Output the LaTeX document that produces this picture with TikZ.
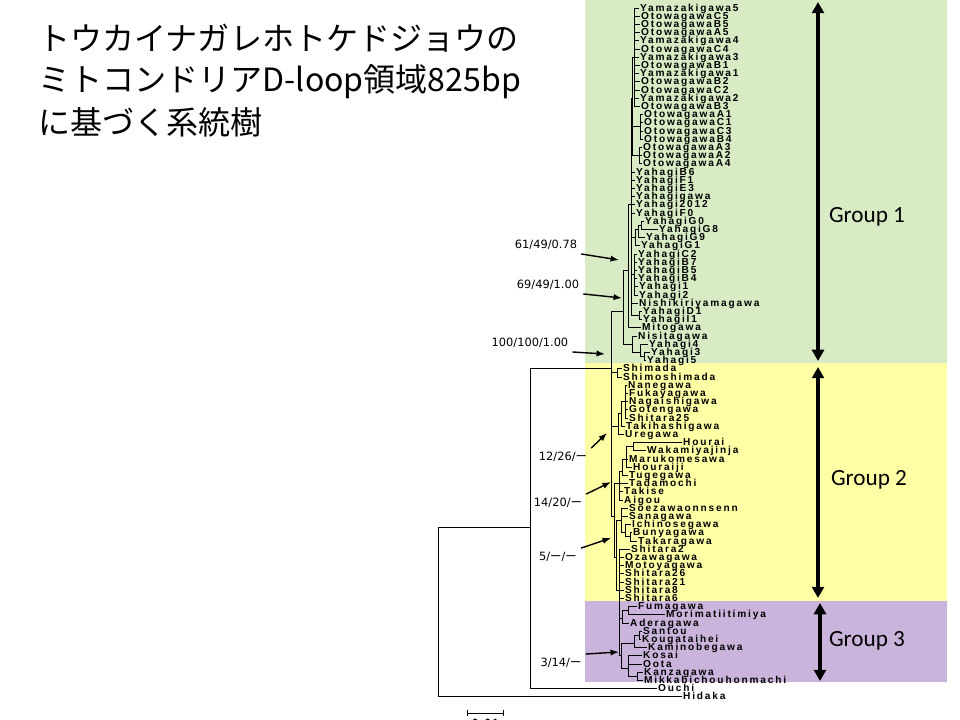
\documentclass[tikz,border=0pt]{standalone}
\usepackage{fontspec}
\setmainfont{Liberation Sans}
\newfontfamily\jpfont{Noto Sans CJK JP}
\newfontfamily\taxfont[LetterSpace=18]{Liberation Sans Bold}
\newfontfamily\grpfont{Carlito}
\newfontfamily\suppfont{DejaVu Sans}
\usetikzlibrary{arrows.meta,positioning,calc}
\definecolor{grpone}{HTML}{D8EBC4}
\definecolor{grptwo}{HTML}{FFFFA6}
\definecolor{grpthree}{HTML}{CBB4DC}
\tikzset{
    taxon/.style = {anchor=west, inner sep=0.6pt,
        text height=4.4pt, text depth=0pt,
        font=\taxfont\fontsize{7.2}{7.5}\selectfont},
    branch/.style = {draw, line width=0.7pt},
    supp/.style = {inner sep=2.8pt, font=\suppfont\fontsize{8.1}{9}\selectfont},
    supparrow/.style = {draw, line width=1pt, -{Latex[length=6pt,width=4.5pt]}},
    grouparrow/.style = {draw, line width=2.4pt,
        {Triangle[length=8pt,width=8.5pt]}-{Triangle[length=8pt,width=8.5pt]}},
    grouplabel/.style = {font=\grpfont\fontsize{16.5}{18}\selectfont},
    titleline/.style = {anchor=west, inner sep=0pt, text height=19.6pt, text depth=2.8pt,
        font=\jpfont\fontsize{22.8}{26}\selectfont}
}
\begin{document}
\begin{tikzpicture}[x=0.025cm, y=-0.025cm]
\useasboundingbox (0,0) rectangle (960,720);
\fill[grpone] (585,0) rectangle (947,363.5);
\fill[grptwo] (585,363.5) rectangle (947,600.5);
\fill[grpthree] (585,600.5) rectangle (947,682);

\node[titleline] (title1) at (38,39) {トウカイナガレホトケドジョウの};
\node[titleline] (title2) at (38,80) {ミトコンドリアD-loop領域825bp};
\node[titleline] (title3) at (38,123) {に基づく系統樹};

% inner nodes of the tree
\foreach \n/\x/\r in {P1/634/7, P2/640/15.5, P3/639/19, P4/632/12, P5a/641/27.5,
    P5b/638/28, P5/635/29, P6/634/33.5, P7/639/38.5, N4/631/25, N2/628/33,
    P8a/644/43.5, P8/640/43, N3/632/42, N1/623/38, SS/617/45.5, C1a/625/49,
    C1b/621/50.5, C1/618/52, HW/633/54.5, C2a/626/56, C2b/622/57.5, C2/619/59,
    C3a/630/65.5, C3b/625/65, C3/621/63.5, FM/628/74.5, FA/622/75.5, SK/639/77.5,
    SKK/634/78.5, KM/637/82.5, KOO/628/81.5, G3b/621/80, S/619/72, T/616/68,
    U/614/63, I/611/45, R1/530/64.4, R0/438/64.4}
    \coordinate (\n) at (\x,{8.2*\r-0.2});

\foreach \p/\c in {P4/P1, P4/P2, P4/P3, N4/P4, N4/P5, P5/P5b, P5b/P5a, N4/P6,
    N4/P7, N2/N4, N1/N2, N1/N3, N3/P8, P8/P8a, I/N1, I/SS, I/C1, C1/C1b, C1b/C1a,
    I/U, U/C2, C2/C2b, C2b/C2a, C2a/HW, U/T, T/C3, C3/C3b, C3b/C3a, T/S, S/FA,
    FA/FM, S/G3b, G3b/SKK, SKK/SK, G3b/KOO, KOO/KM, R1/I, R0/R1}
    \draw[branch] (\p) |- (\c);

% taxa
\foreach \i/\name/\x/\p in {1/Yamazakigawa5/639/P1, 2/OtowagawaC5/640/P1,
    3/OtowagawaB5/640/P1, 4/OtowagawaA5/640/P1, 5/Yamazakigawa4/639/P1,
    6/OtowagawaC4/640/P1, 7/Yamazakigawa3/639/P1, 8/OtowagawaB1/640/P1,
    9/Yamazakigawa1/639/P1, 10/OtowagawaB2/640/P1, 11/OtowagawaC2/640/P1,
    12/Yamazakigawa2/639/P1, 13/OtowagawaB3/640/P1, 14/OtowagawaA1/643/P2,
    15/OtowagawaC1/643/P2, 16/OtowagawaC3/643/P2, 17/OtowagawaB4/643/P2,
    18/OtowagawaA3/642/P3, 19/OtowagawaA2/642/P3, 20/OtowagawaA4/642/P3,
    21/YahagiB6/635/N4, 22/YahagiF1/635/N4, 23/YahagiE3/635/N4,
    24/Yahagigawa/635/N4, 25/Yahagi2012/635/N4, 26/YahagiF0/635/N4,
    27/YahagiG0/644/P5a, 28/YahagiG8/658/P5a, 29/YahagiG9/645/P5b,
    30/YahagiG1/640/P5, 31/YahagiC2/637/P6, 32/YahagiB7/637/P6,
    33/YahagiB5/637/P6, 34/YahagiB4/637/P6, 35/Yahagi1/638/P6, 36/Yahagi2/638/P6,
    37/Nishikiriyamagawa/638/N4, 38/YahagiD1/642/P7, 39/YahagiI1/642/P7,
    40/Mitogawa/641/N2, 41/Nisitagawa/637/N3, 42/Yahagi4/648/P8,
    43/Yahagi3/650/P8a, 44/Yahagi5/646/P8a, 45/Shimada/622/SS,
    46/Shimoshimada/622/SS, 47/Nanegawa/627/C1a, 48/Fukayagawa/628/C1a,
    49/Nagaishigawa/628/C1a, 50/Gotengawa/628/C1a, 51/Shitara25/628/C1a,
    52/Takihashigawa/625/C1b, 53/Uregawa/624/C1, 54/Hourai/682/HW,
    55/Wakamiyajinja/646/HW, 56/Marukomesawa/628/C2a, 57/Houraiji/632/C2a,
    58/Tugegawa/628/C2b, 59/Tadamochi/628/C2, 60/Takise/623/C2, 61/Aigou/623/C2,
    62/Soezawaonnsenn/628/C3, 63/Sanagawa/628/C3, 64/Ichinosegawa/631/C3b,
    65/Bunyagawa/632/C3a, 66/Takaragawa/637/C3a, 67/Shitara2/630/S,
    68/Ozawagawa/624/S, 69/Motoyagawa/624/S, 70/Shitara26/624/S,
    71/Shitara21/624/S, 72/Shitara8/624/S, 73/Shitara6/624/S,
    74/Fumagawa/637/FM, 75/Morimatiitimiya/665/FM, 76/Aderagawa/629/FA,
    77/Santou/642/SK, 78/Kougataihei/641/SK, 79/Kaminobegawa/647/SKK,
    80/Kosai/642/KOO, 81/Oota/642/KOO, 82/Kanzagawa/643/KM,
    83/Mikkabichouhonmachi/643/KM, 84/Ouchi/657/R1, 85/Hidaka/682/R0}
{
    \node[taxon] (t\i) at (\x,{8.2*\i-0.2}) {\name};
    \draw[branch] (\p) |- (t\i.west);
}

% support values
\node[supp] (s61) at (546,245) {61/49/0.78};
\node[supp] (s69) at (548,285) {69/49/1.00};
\node[supp] (s100) at (530,343) {100/100/1.00};
\node[supp] (s12) at (563,457) {12/26/{\jpfont ー}};
\node[supp] (s14) at (558,503) {14/20/{\jpfont ー}};
\node[supp] (s5) at (558,557) {5/{\jpfont ー}/{\jpfont ー}};
\node[supp] (s3) at (561,663) {3/14/{\jpfont ー}};
\coordinate (a61) at (619,260);
\coordinate (a69) at (622,298);
\coordinate (a100) at (605,354);
\coordinate (a12) at (607,433);
\coordinate (a14) at (611,482);
\coordinate (a5) at (611,538);
\coordinate (a3) at (619,652);
\draw[supparrow] (s61.south east) -- (a61);
\draw[supparrow] (s69.south east) -- (a69);
\draw[supparrow] (s100.south east) -- (a100);
\draw[supparrow] (s12.north east) -- (a12);
\draw[supparrow] (s14.north east) -- (a14);
\draw[supparrow] (s5.north east) -- (a5);
\draw[supparrow] (s3.north east) -- (a3);

% groups
\coordinate (g1a) at (818,2);
\coordinate (g1b) at (818,361);
\coordinate (g2a) at (818,367);
\coordinate (g2b) at (818,598);
\coordinate (g3a) at (820,603);
\coordinate (g3b) at (820,681);
\draw[grouparrow] (g1a) -- (g1b);
\draw[grouparrow] (g2a) -- (g2b);
\draw[grouparrow] (g3a) -- (g3b);
\node[grouplabel] (grp1) at (867,217) {Group 1};
\node[grouplabel] (grp2) at (869,480) {Group 2};
\node[grouplabel] (grp3) at (867,641) {Group 3};

% scale bar
\coordinate (sb1) at (467,713);
\coordinate (sb2) at (504,713);
\draw[line width=0.7pt, {Bar[width=4pt]}-{Bar[width=4pt]}] (sb1) -- (sb2);
\node[inner sep=0pt, font=\taxfont\fontsize{7.5}{8}\selectfont,
    below=4pt of $(sb1)!0.5!(sb2)$] (sblabel) {0.01};
\end{tikzpicture}
\end{document}
